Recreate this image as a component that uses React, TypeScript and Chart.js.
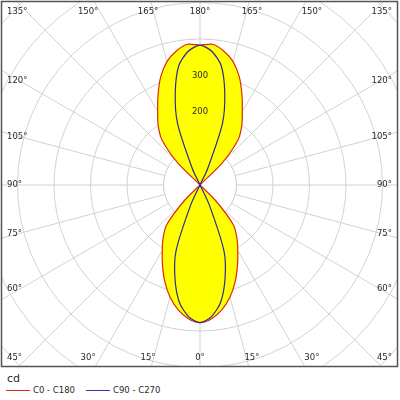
import React, { useEffect, useRef } from 'react';
import { Chart, registerables } from 'chart.js';

Chart.register(...registerables);

// gamma angles (degrees from nadir), 5° steps
const gammaAngles = [0, 5, 10, 15, 20, 25, 30, 35, 40, 45, 50, 55, 60, 65, 70, 75, 80, 85, 90, 95, 100, 105, 110, 115, 120, 125, 130, 135, 140, 145, 150, 155, 160, 165, 170, 175, 180];

// luminous intensity (cd) for each gamma angle
const c0c180 = [377, 368, 347, 318, 282, 243, 207, 176, 142, 62, 0, 0, 0, 0, 0, 0, 0, 0, 0, 0, 0, 0, 0, 0, 0, 0, 0, 88, 163, 200, 232, 272, 315, 350, 373, 387, 383];
const c90c270 = [377, 362, 326, 265, 192, 60, 0, 0, 0, 0, 0, 0, 0, 0, 0, 0, 0, 0, 0, 0, 0, 0, 0, 0, 0, 0, 0, 0, 0, 0, 0, 50, 180, 262, 333, 368, 383];

const seriesNames = ['C0 - C180', 'C90 - C270'];
const unitLabel = 'cd';
const spokeLabelAngles = [0, 15, 30, 45, 60, 75, 90, 105, 120, 135, 150, 165, 180];
const labeledTicks = [200, 300];
const scaleMax = 800;
const scaleStep = 100;

const RED = '#dd2a10';
const BLUE = '#2c2c90';
const LEGEND_BLUE = '#3333c0';
const YELLOW = '#ffff00';
const GRID = '#d2d2d2';
const TEXT = '#2a2a2a';
const FONT = '"DejaVu Sans", Verdana, sans-serif';

// radar index 0 = top (gamma 180), clockwise: right half then left half
function toRadar<T>(half: T[]): T[] {
  const right = half.slice().reverse();
  const left = half.slice(1, half.length - 1);
  return right.concat(left);
}
const radarGammas = toRadar(gammaAngles);

const CX = 200;
const CY = 185;
const PX_PER_CD = 0.365;

const polarFrame = {
  id: 'polarFrame',
  beforeDraw(chart: any) {
    const ctx = chart.ctx;
    ctx.save();
    ctx.beginPath();
    ctx.rect(2, 2, 395, 364);
    ctx.clip();
  },
  beforeDatasetsDraw(chart: any) {
    const ctx = chart.ctx;
    const s = chart.scales.r;
    const r = s.getDistanceFromCenterForValue(scaleStep);
    ctx.save();
    ctx.fillStyle = '#ffffff';
    ctx.beginPath();
    ctx.arc(s.xCenter, s.yCenter, r, 0, Math.PI * 2);
    ctx.fill();
    ctx.strokeStyle = GRID;
    ctx.lineWidth = 1;
    ctx.stroke();
    ctx.restore();
  },
  afterDraw(chart: any) {
    const ctx = chart.ctx;
    ctx.restore();
    const s = chart.scales.r;
    ctx.save();
    ctx.strokeStyle = '#555555';
    ctx.lineWidth = 1.5;
    ctx.strokeRect(1.5, 1.5, 396, 365);
    ctx.fillStyle = TEXT;
    ctx.font = '8.5px ' + FONT;
    ctx.textBaseline = 'middle';
    const L = 15, T = 12, B = 358, LX = 7, RX = 392;
    const cx = s.xCenter, cy = s.yCenter;
    spokeLabelAngles.forEach((g) => {
      const sides = g === 0 || g === 180 ? [1] : [-1, 1];
      sides.forEach((side) => {
        const rad = (g * Math.PI) / 180;
        const dx = side * Math.sin(rad);
        const dy = Math.cos(rad);
        const tx = Math.abs(dx) > 1e-9 ? (cx - L) / Math.abs(dx) : Infinity;
        const ty = dy > 1e-9 ? (B - cy) / dy : dy < -1e-9 ? (cy - T) / -dy : Infinity;
        const text = g + '°';
        if (tx <= ty) {
          const y = cy + dy * tx * 0.975;
          ctx.textAlign = side < 0 ? 'left' : 'right';
          ctx.fillText(text, side < 0 ? LX : RX, y);
        } else {
          const y = dy > 0 ? B : T;
          const off = dx * ty * 1.12;
          if (Math.abs(off) > 175) {
            ctx.textAlign = side < 0 ? 'left' : 'right';
            ctx.fillText(text, side < 0 ? LX : RX, y);
          } else {
            ctx.textAlign = 'center';
            ctx.fillText(text, cx + off, y);
          }
        }
      });
    });
    ctx.restore();
  },
};

export default function App() {
  const ref = useRef<HTMLCanvasElement | null>(null);
  useEffect(() => {
    if (!ref.current) return;
    const chart = new Chart(ref.current, {
      type: 'radar',
      data: {
        labels: radarGammas.map((g) => g + '°'),
        datasets: [
          {
            label: seriesNames[1],
            data: toRadar(c90c270),
            borderColor: BLUE,
            borderWidth: 1.2,
            fill: false,
            pointRadius: 0,
            tension: 0.25,
          },
          {
            label: seriesNames[0],
            data: toRadar(c0c180),
            borderColor: RED,
            backgroundColor: YELLOW,
            borderWidth: 1.2,
            fill: 'origin',
            pointRadius: 0,
            tension: 0.25,
          },
        ],
      },
      options: {
        responsive: false,
        animation: false,
        layout: { padding: 0 },
        plugins: { legend: { display: false }, tooltip: { enabled: false } },
        scales: {
          r: {
            min: 0,
            max: scaleMax,
            startAngle: 0,
            afterFit: (sc: any) => {
              sc.xCenter = CX;
              sc.yCenter = CY;
              sc.drawingArea = PX_PER_CD * scaleMax;
            },
            grid: { circular: true, color: GRID, lineWidth: 1 },
            angleLines: {
              display: true,
              color: GRID,
              lineWidth: (c: any) => (radarGammas[c.index] % 15 === 0 ? 1 : 0),
            },
            pointLabels: { display: false },
            ticks: {
              stepSize: scaleStep,
              display: true,
              z: 1,
              showLabelBackdrop: false,
              color: TEXT,
              font: { family: FONT, size: 8.5 },
              callback: (v: any) => (labeledTicks.includes(Number(v)) ? String(v) : ''),
            },
          } as any,
        },
      },
      plugins: [polarFrame],
    } as any);
    return () => chart.destroy();
  }, []);

  return (
    <div style={{ position: 'absolute', left: 0, top: 0, width: 400, height: 400, background: '#fff', fontFamily: FONT, color: TEXT }}>
      <canvas ref={ref} width={400} height={368} style={{ position: 'absolute', left: 0, top: 0 }} />
      <div style={{ position: 'absolute', left: 7, top: 372, fontSize: 11, lineHeight: '14px' }}>{unitLabel}</div>
      <div style={{ position: 'absolute', left: 6, top: 389.5, width: 24, height: 1.3, background: RED }} />
      <div style={{ position: 'absolute', left: 33, top: 384, fontSize: 8.5, lineHeight: '12px', whiteSpace: 'nowrap' }}>{seriesNames[0]}</div>
      <div style={{ position: 'absolute', left: 86, top: 389.5, width: 24, height: 1.3, background: LEGEND_BLUE }} />
      <div style={{ position: 'absolute', left: 113, top: 384, fontSize: 8.5, lineHeight: '12px', whiteSpace: 'nowrap' }}>{seriesNames[1]}</div>
    </div>
  );
}
